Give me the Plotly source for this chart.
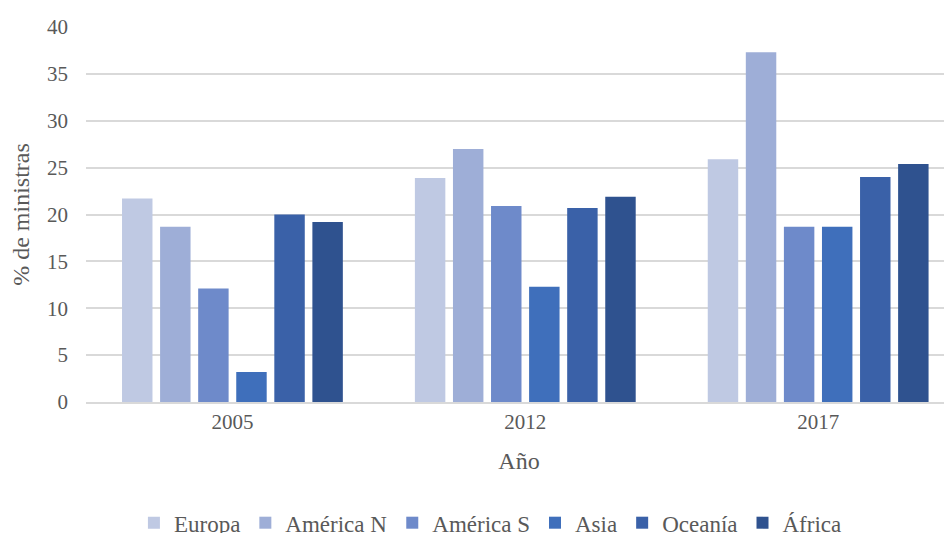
import plotly.graph_objects as go

anios = ["2005", "2012", "2017"]
regiones = ["Europa", "América N", "América S", "Asia", "Oceanía", "África"]
europa = [21.7, 23.9, 25.9]
america_n = [18.7, 27.0, 37.3]
america_s = [12.1, 20.9, 18.7]
asia = [3.2, 12.3, 18.7]
oceania = [20.0, 20.7, 24.0]
africa = [19.2, 21.9, 25.4]
colores = ["#BFC9E3", "#9EAED7", "#6E8ACA", "#3F6FBB", "#3A61A8", "#2F528F"]

fig = go.Figure()
for nombre, valores, color in zip(regiones, [europa, america_n, america_s, asia, oceania, africa], colores):
    fig.add_trace(go.Bar(x=anios, y=valores, name=nombre, marker=dict(color=color, line=dict(width=0))))

fuente = "Liberation Serif"
gris = "#595959"

# la página tiene un margen de 8px en el body, se compensa en los márgenes
fig.update_layout(
    width=952, height=533,
    margin=dict(l=78, r=8, t=19, b=139, autoexpand=False),
    plot_bgcolor="white", paper_bgcolor="white",
    barmode="group", bargap=0.22, bargroupgap=0.2,
    font=dict(family=fuente, size=21, color=gris),
    showlegend=True,
    legend=dict(orientation="h", x=0.467, xanchor="center", y=-0.322, yanchor="middle",
                font=dict(family=fuente, size=23, color=gris), itemwidth=30, tracegroupgap=0),
)
fig.update_xaxes(
    type="category", range=[-0.5, 2.457], automargin=False,
    showline=True, linecolor="#D9D9D9", linewidth=1.5,
    ticks="", tickfont=dict(family=fuente, size=21, color=gris),
    title=dict(text="Año", font=dict(family=fuente, size=24, color=gris), standoff=19),
)
fig.update_yaxes(
    range=[0, 40], dtick=5, automargin=False,
    showgrid=True, gridcolor="#D9D9D9", gridwidth=1.5,
    zeroline=False, showline=False,
    ticks="", ticklabelstandoff=17, tickfont=dict(family=fuente, size=21, color=gris),
    title=dict(text="% de ministras", font=dict(family=fuente, size=24, color=gris), standoff=11),
)

fig.write_html("out.html")
